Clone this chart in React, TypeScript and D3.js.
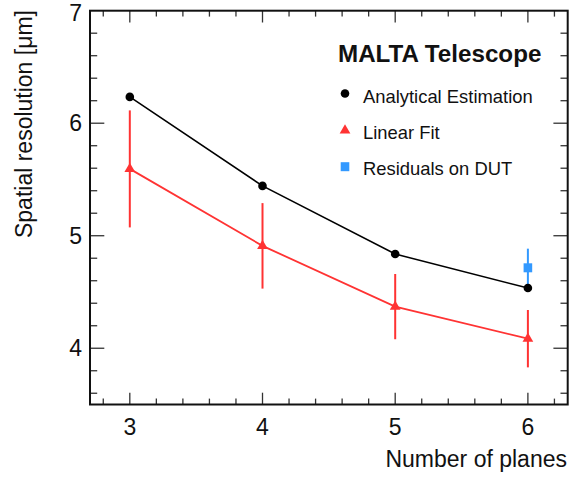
import React from "react";
import * as d3 from "d3";

const planes = [3, 4, 5, 6];
const analytical = [6.234, 5.443, 4.837, 4.535];
const linearFit = [5.594, 4.91, 4.37, 4.085];
const linearFitErr = [0.52, 0.38, 0.29, 0.255];
const dutPlanes = [6];
const dutResiduals = [4.715];
const dutErr = [0.17];
const xTicks = [3, 4, 5, 6];
const yTicks = [4, 5, 6, 7];

const W = 569;
const H = 477;
const M = { left: 90, top: 10.7, right: 567.7, bottom: 404.5 };
const FONT = "'Liberation Sans', Arial, Helvetica, sans-serif";
const RED = "#ff3333";
const BLUE = "#3399ff";

export default function App() {
  const x = d3.scaleLinear().domain([2.7, 6.3]).range([M.left, M.right]);
  const y = d3.scaleLinear().domain([3.5, 7]).range([M.bottom, M.top]);

  const xMinor = d3.range(2.8, 6.3, 0.2).map((v) => +v.toFixed(2));
  const yMinor = d3.range(3.6, 7.0, 0.2).map((v) => +v.toFixed(2));
  const isMajor = (v: number) => Math.abs(v - Math.round(v)) < 1e-6;

  const xMaj = 11.8, xMin = 5.9, yMaj = 14.3, yMin = 7.2;

  const line = d3
    .line<[number, number]>()
    .x((d) => x(d[0]))
    .y((d) => y(d[1]));

  const tri = d3.symbol().type(d3.symbolTriangle).size(50)();
  const tickColor = "#333";

  return (
    <svg width={W} height={H} style={{ display: "block", position: "absolute", left: 0, top: 0 }}>
      <rect x={0} y={0} width={W} height={H} fill="white" />
      {/* ticks */}
      <g stroke={tickColor} strokeWidth={1.3}>
        {xMinor.map((v) => {
          const L = isMajor(v) ? xMaj : xMin;
          return (
            <g key={"x" + v}>
              <line x1={x(v)} x2={x(v)} y1={M.bottom} y2={M.bottom - L} />
              <line x1={x(v)} x2={x(v)} y1={M.top} y2={M.top + L} />
            </g>
          );
        })}
        {yMinor.map((v) => {
          const L = isMajor(v) ? yMaj : yMin;
          return (
            <g key={"y" + v}>
              <line x1={M.left} x2={M.left + L} y1={y(v)} y2={y(v)} />
              <line x1={M.right} x2={M.right - L} y1={y(v)} y2={y(v)} />
            </g>
          );
        })}
      </g>
      <rect
        x={M.left}
        y={M.top}
        width={M.right - M.left}
        height={M.bottom - M.top}
        fill="none"
        stroke="#111"
        strokeWidth={2}
      />
      {/* tick labels */}
      <g fontFamily={FONT} fontSize={23} fill="#111">
        {xTicks.map((v) => (
          <text key={"xl" + v} x={x(v)} y={434.5} textAnchor="middle">
            {v}
          </text>
        ))}
        {yTicks.map((v) => (
          <text key={"yl" + v} x={82} y={Math.max(y(v) + 8.2, 21)} textAnchor="end">
            {v}
          </text>
        ))}
        <text x={567} y={467} textAnchor="end">
          Number of planes
        </text>
        <text transform="translate(31.5,10) rotate(-90)" textAnchor="end">
          Spatial resolution [μm]
        </text>
      </g>
      {/* analytical */}
      <path
        d={line(planes.map((p, i) => [p, analytical[i]]) as [number, number][]) || ""}
        fill="none"
        stroke="#000"
        strokeWidth={1.6}
      />
      {/* linear fit */}
      <path
        d={line(planes.map((p, i) => [p, linearFit[i]]) as [number, number][]) || ""}
        fill="none"
        stroke={RED}
        strokeWidth={1.8}
      />
      {planes.map((p, i) => (
        <line
          key={"e" + p}
          x1={x(p)}
          x2={x(p)}
          y1={y(linearFit[i] + linearFitErr[i])}
          y2={y(linearFit[i] - linearFitErr[i])}
          stroke={RED}
          strokeWidth={2}
        />
      ))}
      {planes.map((p, i) => (
        <path key={"t" + p} d={tri || ""} transform={`translate(${x(p)},${y(linearFit[i])})`} fill={RED} />
      ))}
      {/* DUT */}
      {dutPlanes.map((p, i) => (
        <g key={"d" + p}>
          <line
            x1={x(p)}
            x2={x(p)}
            y1={y(dutResiduals[i] + dutErr[i])}
            y2={y(dutResiduals[i] - dutErr[i])}
            stroke={BLUE}
            strokeWidth={2}
          />
          <rect x={x(p) - 4.3} y={y(dutResiduals[i]) - 4.5} width={8.6} height={9} fill={BLUE} />
        </g>
      ))}
      {planes.map((p, i) => (
        <circle key={"c" + p} cx={x(p)} cy={y(analytical[i])} r={4.3} fill="#000" />
      ))}
      {/* legend */}
      <g fontFamily={FONT} fill="#111">
        <text x={338} y={61.7} fontSize={24.2} fontWeight="bold">
          MALTA Telescope
        </text>
        <circle cx={345} cy={93.5} r={4.3} fill="#000" />
        <text x={363} y={102.5} fontSize={18.4}>
          Analytical Estimation
        </text>
        <path d={tri || ""} transform="translate(345,130.5)" fill={RED} />
        <text x={363} y={138.5} fontSize={18.4}>
          Linear Fit
        </text>
        <rect x={340.7} y={162.2} width={8.6} height={9} fill={BLUE} />
        <text x={363} y={174.5} fontSize={18.4}>
          Residuals on DUT
        </text>
      </g>
    </svg>
  );
}
